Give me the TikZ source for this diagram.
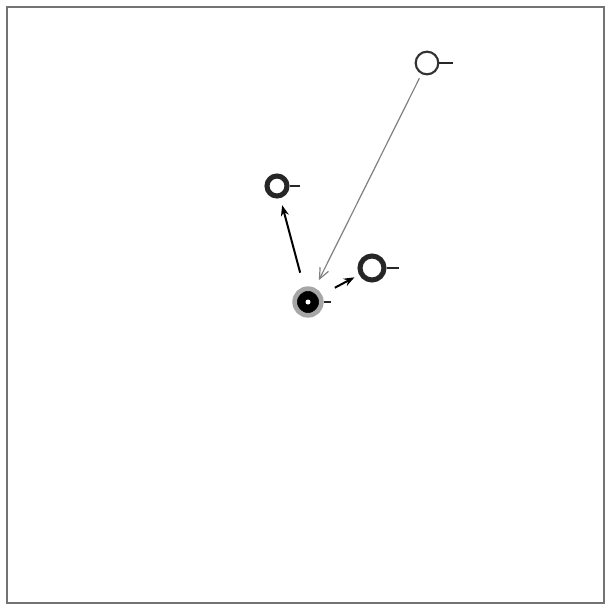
\documentclass[tikz,border=0pt]{standalone}
\usetikzlibrary{arrows.meta}
\begin{document}
\begin{tikzpicture}[x=0.75pt,y=-0.75pt,
  plain/.style={circle,draw=black!80,line width=1.6pt,fill=white,minimum size=17pt,inner sep=0pt},
  bold/.style={circle,draw=black!85,line width=3.8pt,fill=white,minimum size=15pt,inner sep=0pt},
  boldr/.style={circle,draw=black!85,line width=3.8pt,fill=white,minimum size=18pt,inner sep=0pt},
  core/.style={circle,fill=black,draw=black!35,line width=3.5pt,minimum size=20pt,inner sep=0pt},
  tick/.style={line width=1.5pt,black!85},
  link/.style={-{Stealth[length=8pt,width=6pt]},line width=1.5pt,black},
  glink/.style={-{Straight Barb[length=8pt,width=7pt]},line width=0.9pt,black!50}]
\useasboundingbox (0,0) rectangle (608,607);
\draw[black!55,line width=2.2pt] (7,7) rectangle (604,603);
\node[plain] (t) at (427,63) {};
\node[bold] (l) at (277,186) {};
\node[boldr] (r) at (372,268) {};
\node[core] (c) at (308,302) {};
\fill[white] (c.center) circle (2.5);
\draw[tick] (t.east) -- ++(14,0);
\draw[tick] (l.east) -- ++(10,0);
\draw[tick] (r.east) -- ++(12,0);
\draw[tick] (c.east) -- ++(7,0);
\draw[link,shorten <=11pt,shorten >=5.5pt] (c) -- (l);
\draw[glink,shorten <=3.5pt,shorten >=6.5pt] (t) -- (c);
\draw[link,shorten <=11pt,shorten >=4pt] (c) -- (r);
\end{tikzpicture}
\end{document}
